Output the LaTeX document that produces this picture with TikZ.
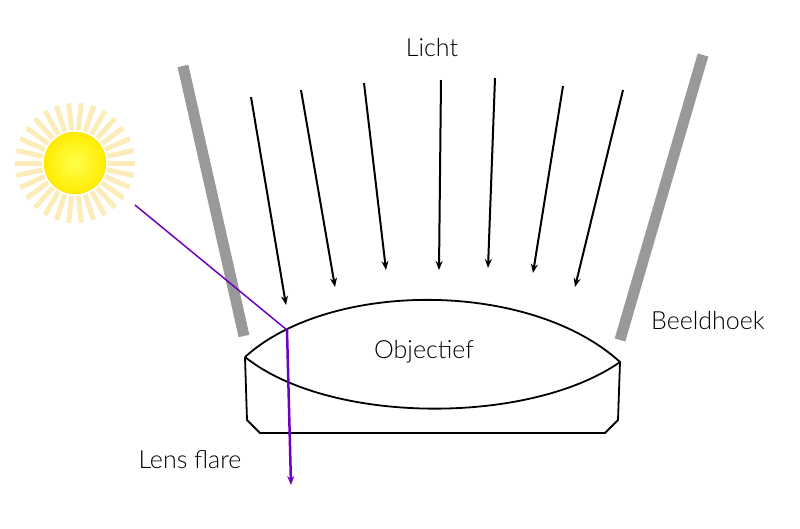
\documentclass[tikz,border=0pt]{standalone}
\usepackage{fontspec}
\setmainfont{Lato Light}
\usetikzlibrary{arrows.meta}
\definecolor{flare}{HTML}{7000C0}
\definecolor{sunray}{HTML}{F8E08A}
\begin{document}
\begin{tikzpicture}[x=1pt, y=-1pt, font=\fontsize{25}{28}\selectfont,
    ray/.style={black, line width=2pt, -{Stealth[length=9pt,width=7pt]}},
    wall/.style={gray!80, line width=11pt},
    label/.style={inner sep=0pt}]
    \useasboundingbox (0,0) rectangle (800,528);

    % sun
    \foreach \a in {0,12,...,348}
        \draw[sunray, line width=5pt, opacity=0.6]
            (75,163) ++(\a:33) -- ++(\a:27);
    \shade[inner color=yellow!70!white, outer color=yellow!85!orange, draw=yellow!80!orange]
        (75,163) circle (31);
    \node[label] (sun) at (75,163) {};

    % walls
    \draw[wall] (183,66) -- (244,336);
    \draw[wall] (703,55) -- (620,340);

    % light rays
    \foreach \x/\y/\u/\v in {251/97/286/305, 301/90/335/287, 364/83/386/270,
        441/80/439/270, 495/78/488/268, 563/86/533/273, 623/90/575/287}
        \draw[ray] (\x,\y) -- (\u,\v);

    % lens
    \coordinate (l) at (245,357);
    \coordinate (r) at (620,362);
    \draw[line width=1.8pt] (l) .. controls (330,280) and (530,280) .. (r)
        .. controls (530,425) and (330,425) .. (l);
    \draw[line width=1.8pt] (l) -- (247,420) -- (260,433) -- (605,433)
        -- (618,420) -- (r);

    % flare
    \coordinate (f0) at (135,205);
    \coordinate (f1) at (287,330);
    \coordinate (f2) at (291,485);
    \draw[flare, line width=1.5pt] (f0) -- (f1);
    \draw[flare, line width=2.5pt, -{Stealth[length=9pt,width=7pt]}] (f1) -- (f2);

    % texts
    \node[label] (licht) at (432,48) {Licht};
    \node[label] (beeld) at (708,320) {Beeldhoek};
    \node[label] (obj) at (424,352) {Objectief};
    \node[label] (lens) at (190,460) {Lens flare};
\end{tikzpicture}
\end{document}
